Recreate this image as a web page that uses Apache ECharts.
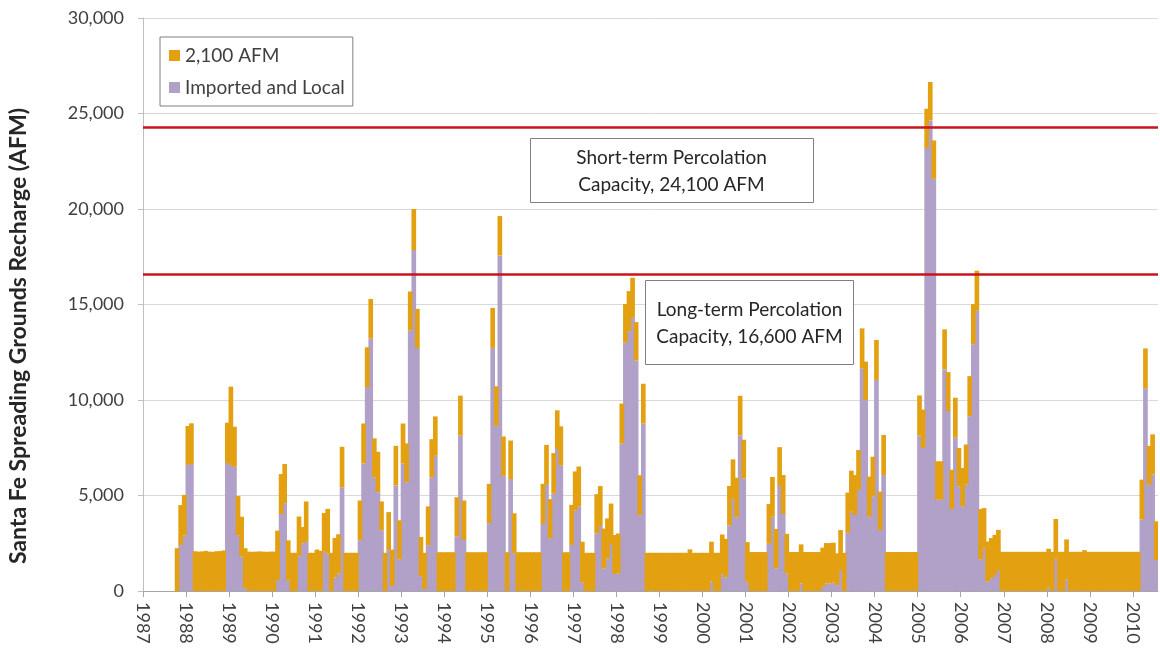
<!DOCTYPE html>
<html><head><meta charset="utf-8">
<script src="https://cdn.jsdelivr.net/npm/echarts@6/dist/echarts.min.js"></script>
<style>html,body{margin:0;padding:0;background:#fff}#c{width:1160px;height:654px}</style>
</head><body><div id="c"></div>
<script>
// Monthly recharge, Jan 1987 (index 0) onward
const startYear = 1987;
const monthCount = 283;
const seriesNames = ['Imported and Local', '2,100 AFM'];
const importedLocal = [
  null,null,null,null,null,null,null,null,null,0,2400,2900,
  6600,6650,0,0,0,0,0,0,0,0,0,6700,
  6600,6500,2900,1800,150,0,0,0,0,0,0,0,
  0,570,4030,4600,550,0,0,1820,2500,2570,0,0,
  0,0,2050,1960,0,700,920,5430,0,0,0,0,
  2660,6680,10680,13210,5950,5170,3180,0,2140,260,5520,1650,
  6680,5690,13630,17850,12720,780,100,2400,5950,7080,0,0,
  0,0,0,2850,8130,2670,0,0,0,0,0,0,
  3550,12730,8650,17570,6030,0,5860,1980,0,0,0,0,
  0,0,0,3510,5560,2760,5090,7430,6560,0,0,2410,
  4210,4420,450,0,0,0,3010,3400,1180,1710,2460,890,
  920,7720,13000,13600,14300,12070,3970,8760,0,0,0,0,
  0,0,0,0,0,0,0,0,0,0,0,0,
  0,0,490,0,0,880,710,3430,4810,3860,8150,5900,
  480,0,0,0,0,0,2470,3890,1180,5500,4030,920,
  0,0,0,400,0,0,0,0,0,220,400,400,
  440,300,1100,0,3050,4150,3980,5290,11660,10000,3890,4940,
  11050,3190,6070,0,0,0,0,0,0,0,0,0,
  8140,7490,23190,24640,21580,4780,4780,11600,9420,4290,8020,5480,
  4430,5570,9150,12920,14670,1660,2240,490,670,840,1100,0,
  0,0,0,0,0,0,0,0,0,0,0,0,
  170,0,1690,0,0,610,0,0,0,0,0,0,
  0,0,0,0,0,0,0,0,0,0,0,0,
  0,0,3740,10610,5560,6100,1620
];
const afm2100 = [
  null,null,null,null,null,null,null,null,null,2240,2100,2130,
  2040,2130,2080,2060,2070,2100,2060,2050,2080,2090,2120,2110,
  4100,2100,2070,2090,2090,2060,2050,2060,2070,2060,2050,2060,
  2060,2590,2090,2050,2100,2000,2000,2080,850,2120,2000,2000,
  2170,2100,2030,2340,2000,2080,2050,2120,2000,2000,2000,2000,
  2080,2090,2080,2080,2040,2120,1510,2000,1990,1910,2080,2050,
  2090,2040,2050,2150,2050,2050,1900,2030,2000,2060,2030,2030,
  2030,2030,2030,2060,2100,2070,2030,2030,2030,2030,2030,2030,
  2060,2090,2070,2060,2060,2030,2020,2090,2030,2030,2030,2030,
  2030,2030,2030,2100,2090,2050,2130,2030,2060,2030,2030,2100,
  2050,2100,2130,2000,2000,2000,2060,2090,2090,2090,2120,2040,
  2090,2090,2030,2100,2100,2010,2090,2090,2000,2000,2000,2000,
  2000,2000,2000,2000,2000,2000,2000,2000,2180,2000,2000,2000,
  2000,2000,2090,2000,2000,2080,2020,2070,2080,2070,2070,2020,
  2080,2040,2040,2040,2040,2040,2080,2080,2070,2030,2040,2070,
  2040,2040,2040,2040,2040,2040,2040,2040,2040,2050,2110,2110,
  2090,1670,2090,2000,2100,2150,2090,2090,2090,2010,2100,2090,
  2090,2010,2100,2040,2040,2040,2040,2040,2040,2040,2040,2040,
  2100,2010,2060,2010,2010,2010,2010,2100,2040,2060,2100,2010,
  2010,2100,2100,2100,2100,2630,2100,2100,2100,2100,2100,2050,
  2050,2050,2050,2050,2050,2050,2050,2050,2050,2050,2050,2050,
  2040,2050,2080,2050,2050,2090,2050,2050,2050,2050,2140,2050,
  2050,2050,2050,2050,2050,2050,2050,2050,2050,2050,2050,2050,
  2050,2050,2090,2090,2040,2100,2030
];
const capacityLines = [24300, 16600];
const annotations = ['Short-term Percolation\nCapacity, 24,100 AFM', 'Long-term Percolation\nCapacity, 16,600 AFM'];
const yAxisTitle = 'Santa Fe Spreading Grounds Recharge (AFM)';
const yMax = 30000, yStep = 5000;
const monthLabels = Array.from({length: monthCount}, (_, i) => (startYear + Math.floor(i / 12)) + '-' + (i % 12 + 1));

const FONT = 'Lato, "Open Sans", sans-serif';

const chart = echarts.init(document.getElementById('c'), null, {renderer: 'canvas'});
chart.setOption({
  animation: false,
  backgroundColor: '#ffffff',
  grid: {left: 143, right: 2, top: 18, bottom: 63, containLabel: false},
  legend: {
    data: ['2,100 AFM', 'Imported and Local'],
    orient: 'vertical', left: 160, top: 37,
    icon: 'rect', itemWidth: 11, itemHeight: 11, itemGap: 13,
    borderColor: '#7f7f7f', borderWidth: 1, padding: [9, 8, 9, 9],
    textStyle: {fontSize: 19, color: '#404040', fontFamily: FONT}
  },
  xAxis: [
    {type: 'category', data: monthLabels, boundaryGap: true, show: false},
    {type: 'value', min: 0, max: monthCount, interval: 12, position: 'bottom',
     axisLine: {show: true, lineStyle: {color: '#a6a6a6', width: 1}},
     axisTick: {show: true, length: 6, lineStyle: {color: '#a6a6a6'}},
     splitLine: {show: false},
     axisLabel: {
       rotate: -90, margin: 11, fontSize: 18, color: '#404040', fontFamily: FONT,
       showMaxLabel: false,
       formatter: v => (v % 12 === 0 ? String(startYear + v / 12) : '')
     }}
  ],
  yAxis: {
    type: 'value', min: 0, max: yMax, interval: yStep,
    axisLine: {show: true, lineStyle: {color: '#bfbfbf'}},
    axisTick: {show: true, length: 5, lineStyle: {color: '#bfbfbf'}},
    splitLine: {show: true, lineStyle: {color: '#d9d9d9', width: 1}},
    axisLabel: {margin: 19, fontSize: 18, color: '#404040', fontFamily: FONT,
      formatter: v => v.toLocaleString('en-US')}
  },
  series: [
    {name: seriesNames[0], type: 'bar', stack: 'total', xAxisIndex: 0, barWidth: '130%', barGap: '-100%',
     itemStyle: {color: '#b1a0c7'}, data: importedLocal},
    {name: seriesNames[1], type: 'bar', stack: 'total', xAxisIndex: 0, barWidth: '130%', barGap: '-100%',
     itemStyle: {color: '#e3a010'}, data: afm2100,
     markLine: {silent: true, symbol: ['none', 'none'], label: {show: false},
       lineStyle: {color: '#c8141e', width: 2.5, type: 'solid'},
       data: capacityLines.map(v => ({yAxis: v}))}}
  ],
  graphic: [
    {type: 'text', x: 19, y: 336, rotation: Math.PI / 2,
     style: {text: yAxisTitle, fontSize: 23, fontWeight: 'bold', fontFamily: FONT, fill: '#262626', align: 'center', verticalAlign: 'middle'}},
    {type: 'rect', shape: {x: 530.5, y: 138.5, width: 283, height: 64},
     style: {fill: '#ffffff', stroke: '#7f7f7f', lineWidth: 1}, z: 10},
    {type: 'text', x: 671.5, y: 171, z: 11,
     style: {text: annotations[0], fontSize: 19, fontFamily: FONT, fill: '#262626', align: 'center', verticalAlign: 'middle', lineHeight: 27}},
    {type: 'rect', shape: {x: 645.5, y: 280.5, width: 208, height: 84},
     style: {fill: '#ffffff', stroke: '#7f7f7f', lineWidth: 1}, z: 10},
    {type: 'text', x: 749.5, y: 323, z: 11,
     style: {text: annotations[1], fontSize: 19, fontFamily: FONT, fill: '#262626', align: 'center', verticalAlign: 'middle', lineHeight: 27}}
  ]
});
</script></body></html>
